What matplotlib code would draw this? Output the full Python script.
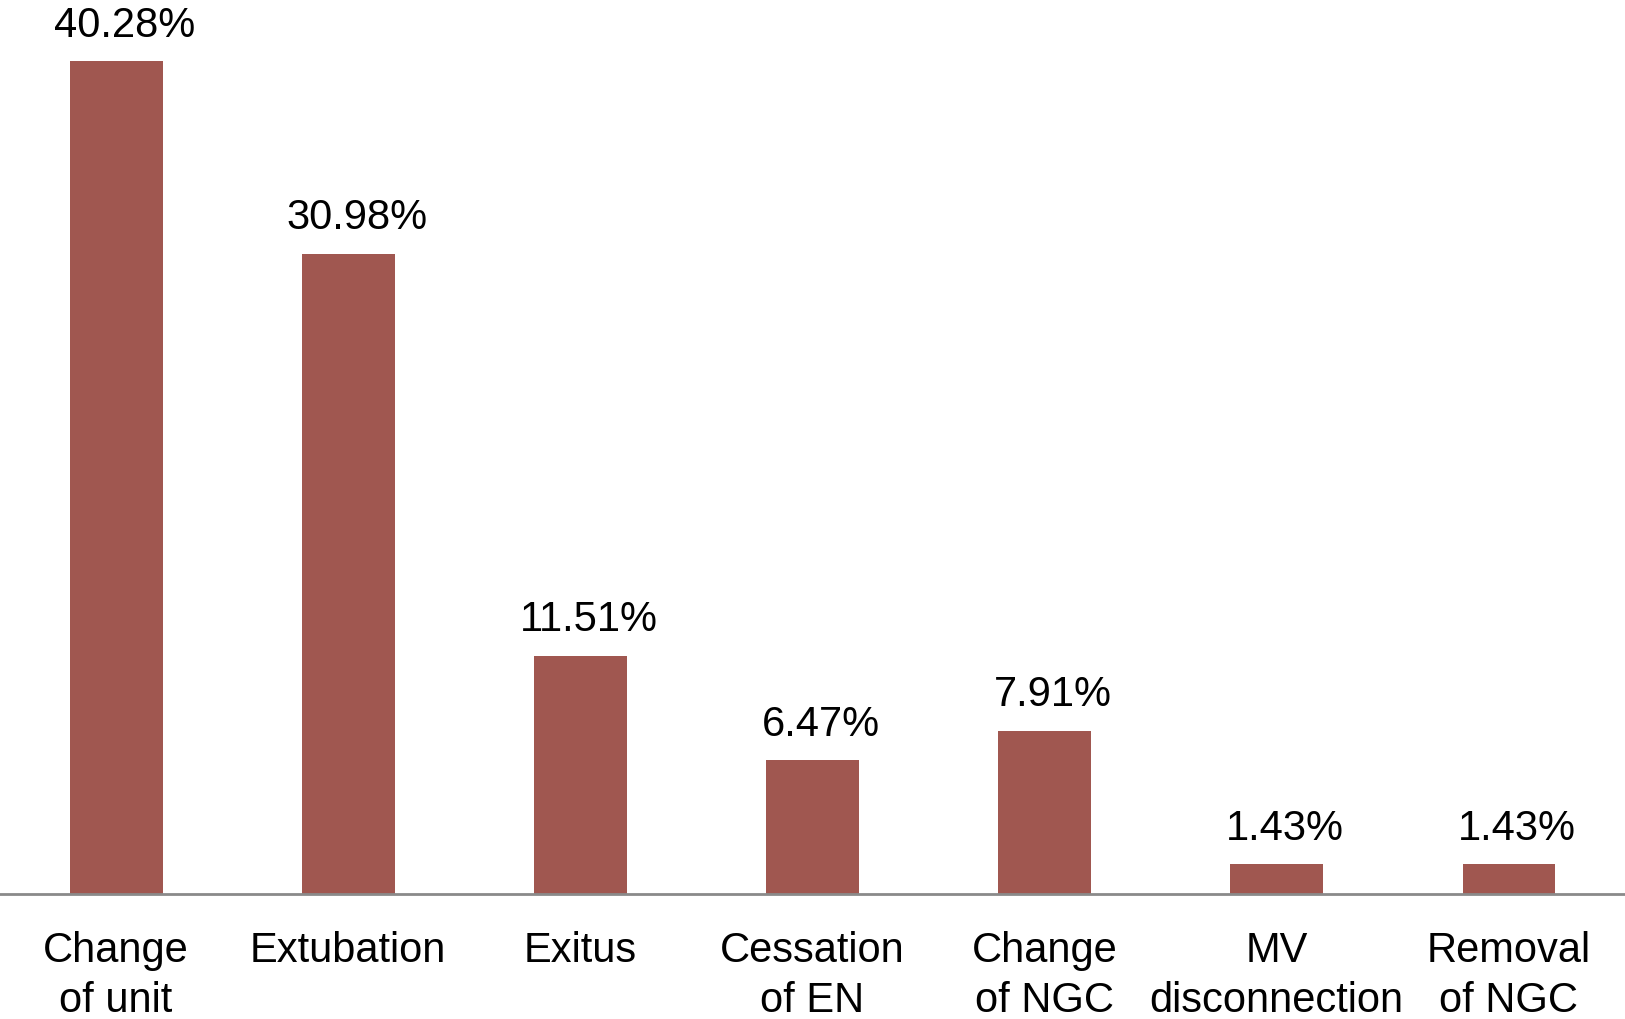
import numpy as np
import matplotlib.pyplot as plt

plt.rcParams['font.family'] = ['Liberation Sans', 'DejaVu Sans']

# Reasons for EN interruption (%)
categories = ['Change\nof unit', 'Extubation', 'Exitus', 'Cessation\nof EN',
              'Change\nof NGC', 'MV\ndisconnection', 'Removal\nof NGC']
values = [40.28, 30.98, 11.51, 6.47, 7.91, 1.43, 1.43]

fig = plt.figure(figsize=(16.25, 10.2), dpi=100)
ax = fig.add_axes([0, 0.1225, 1, 0.8775])

x = np.arange(len(categories))
bars = ax.bar(x, values, width=0.4, color='#A05750')

for b, v in zip(bars, values):
    ax.annotate(f'{v:.2f}%', (b.get_x() + b.get_width() / 2, v),
                xytext=(6, 12), textcoords='offset points',
                ha='center', va='bottom', fontsize=30)

ax.set_xlim(-0.5, len(categories) - 0.5)
ax.set_ylim(0, 43.3)
ax.set_xticks(x)
ax.set_xticklabels(categories, fontsize=30, linespacing=1.33)
ax.tick_params(axis='x', length=0, pad=26)
ax.set_yticks([])

for side in ['top', 'right', 'left']:
    ax.spines[side].set_visible(False)
ax.spines['bottom'].set_color('#8a8a8a')
ax.spines['bottom'].set_linewidth(2)

fig.savefig('out.png', dpi=100)
